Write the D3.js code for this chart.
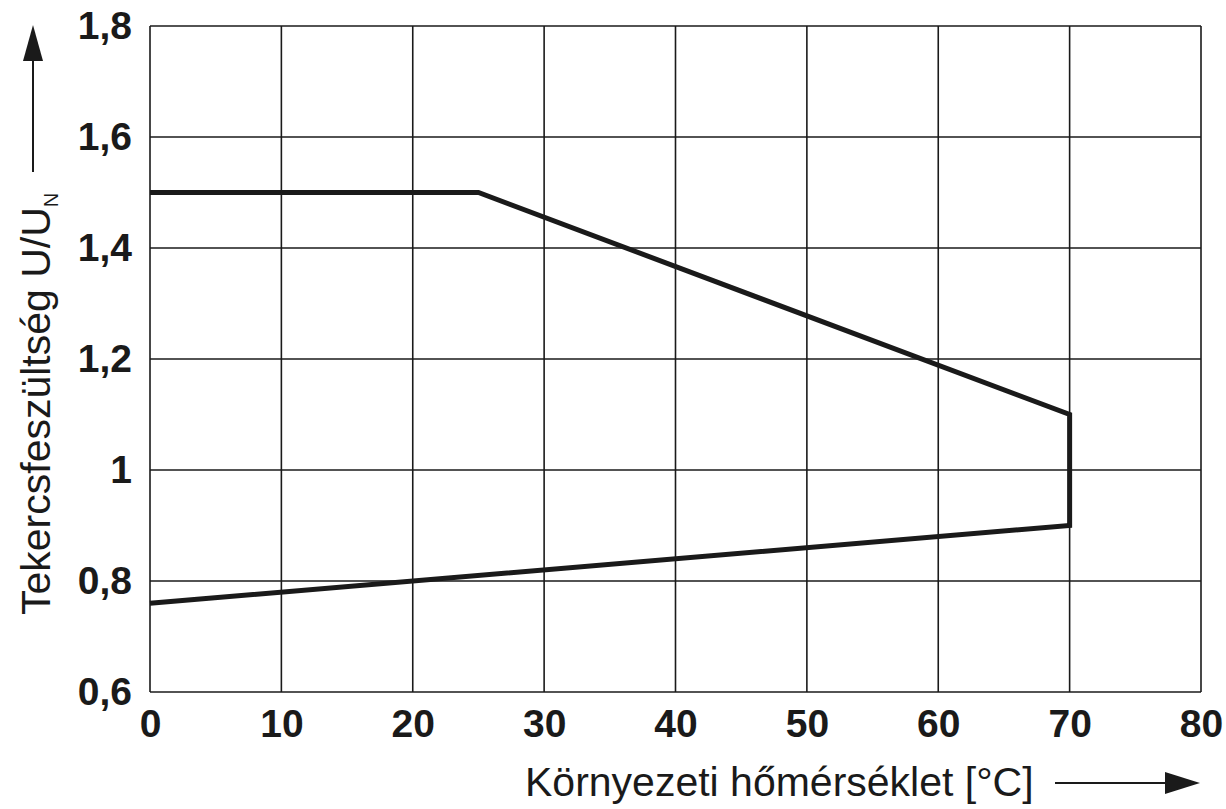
<!DOCTYPE html>
<html>
<head>
<meta charset="utf-8">
<script src="https://cdn.jsdelivr.net/npm/d3@7"></script>
<style>
  html, body { margin: 0; padding: 0; background: #fff; }
  svg { display: block; }
</style>
</head>
<body>
<svg id="chart" width="1226" height="809"></svg>
<script>
// Tekercsfeszültség határgörbe vs. környezeti hőmérséklet
const xTicks = [0, 10, 20, 30, 40, 50, 60, 70, 80];
const yTicks = [0.6, 0.8, 1.0, 1.2, 1.4, 1.6, 1.8];
const yTickLabels = ["0,6", "0,8", "1", "1,2", "1,4", "1,6", "1,8"];

// felső határ (max) és alsó határ (min), 70 °C-nál függőlegesen zárva
const upperT = [0, 25, 70];
const upperU = [1.5, 1.5, 1.1];
const lowerT = [70, 0];
const lowerU = [0.9, 0.76];

const xTitle = "Környezeti hőmérséklet [°C]";
const yTitle = "Tekercsfeszültség U/U";
const yTitleSub = "N";

const INK = "#1a1a1a";
const FONT = "'Liberation Sans', Arial, Helvetica, sans-serif";

const ML = 150, MR = 25, MT = 26, MB = 117, W = 1226, H = 809;
const x = d3.scaleLinear().domain([0, 80]).range([ML, W - MR]);
const y = d3.scaleLinear().domain([0.6, 1.8]).range([H - MB, MT]);

const svg = d3.select("#chart");

// rács
const grid = svg.append("g").attr("stroke", INK).attr("stroke-width", 1.6).attr("fill", "none");
xTicks.forEach(t => grid.append("line")
  .attr("x1", x(t)).attr("x2", x(t)).attr("y1", y(0.6)).attr("y2", y(1.8)));
yTicks.forEach(t => grid.append("line")
  .attr("x1", x(0)).attr("x2", x(80)).attr("y1", y(t)).attr("y2", y(t)));

// tengelyfeliratok (számok)
const xAxis = d3.axisBottom(x).tickValues(xTicks).tickSize(0).tickPadding(17).tickFormat(d => d);
svg.append("g").attr("transform", `translate(0,${y(0.6)})`).call(xAxis)
  .call(g => g.select(".domain").remove())
  .selectAll("text")
  .attr("style", `font:bold 39px ${FONT};fill:${INK}`);

const yAxis = d3.axisLeft(y).tickValues(yTicks).tickSize(0).tickPadding(18)
  .tickFormat((d, i) => yTickLabels[i]);
svg.append("g").attr("transform", `translate(${x(0)},0)`).call(yAxis)
  .call(g => g.select(".domain").remove())
  .selectAll("text")
  .attr("style", `font:bold 39px ${FONT};fill:${INK}`);

// görbe
const line = d3.line().x(d => x(d[0])).y(d => y(d[1]));
const pts = upperT.map((t, i) => [t, upperU[i]])
  .concat(lowerT.map((t, i) => [t, lowerU[i]]));
svg.append("path")
  .attr("d", line(pts))
  .attr("fill", "none").attr("stroke", INK).attr("stroke-width", 5)
  .attr("stroke-linejoin", "miter");

// x tengely címe + nyíl
svg.append("text")
  .attr("x", 525).attr("y", 796)
  .attr("style", `font:41px ${FONT};fill:${INK}`)
  .text(xTitle);
svg.append("line").attr("x1", 1055).attr("x2", 1172).attr("y1", 783).attr("y2", 783)
  .attr("stroke", INK).attr("stroke-width", 2);
svg.append("path").attr("d", "M1200,783 L1165,772 L1165,794 Z").attr("fill", INK);

// y tengely címe + nyíl
const yt = svg.append("text")
  .attr("transform", "translate(50,615) rotate(-90)")
  .attr("style", `font:41px ${FONT};fill:${INK}`);
yt.append("tspan").text(yTitle);
yt.append("tspan").attr("dy", 8).attr("style", `font:20px ${FONT}`).text(yTitleSub);
svg.append("line").attr("x1", 33).attr("x2", 33).attr("y1", 172).attr("y2", 56)
  .attr("stroke", INK).attr("stroke-width", 2);
svg.append("path").attr("d", "M33,25 L23,61 L43,61 Z").attr("fill", INK);
</script>
</body>
</html>
